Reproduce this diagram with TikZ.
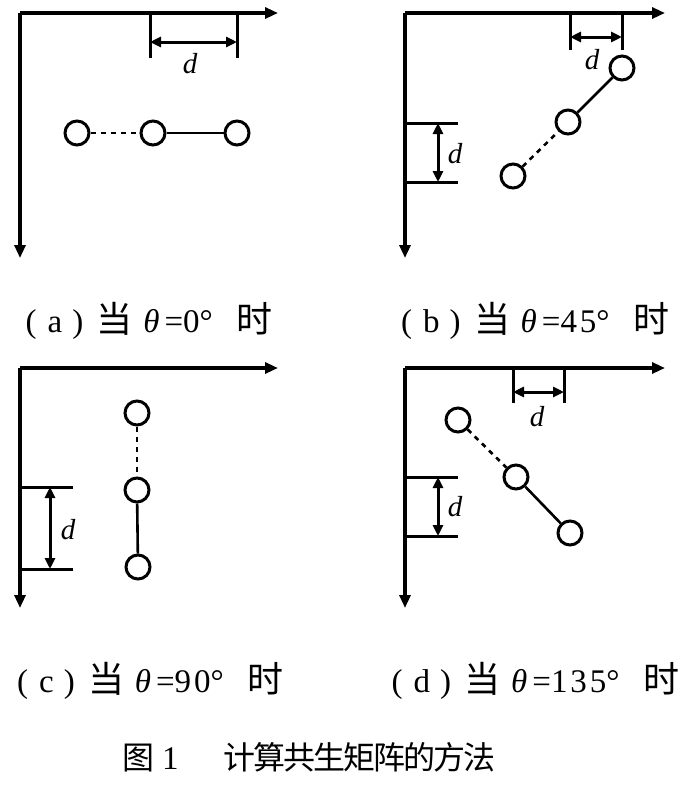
\documentclass[tikz,border=0pt]{standalone}
\usepackage{fontspec}
\setmainfont{Liberation Serif}
\newfontfamily\cjk{Noto Sans CJK SC}
\usetikzlibrary{arrows.meta}
\tikzset{
  axis/.style={line width=3.1pt,-{Triangle[length=13pt,width=11pt]}},
  dimtick/.style={line width=3pt},
  dimarrow/.style={line width=3pt,{Triangle[length=11pt,width=10pt]}-{Triangle[length=11pt,width=10pt]}},
  pix/.style={circle,draw,line width=3pt,minimum size=24pt,inner sep=0pt},
  solidlink/.style={line width=2.6pt},
  dashlink/.style={line width=2.6pt,dash pattern=on 5pt off 5pt},
  dlabel/.style={font=\fontsize{29}{30}\selectfont\itshape,inner sep=0pt},
  captxt/.style={font=\fontsize{33}{35}\selectfont,inner sep=0pt,anchor=west},
}
\newcommand{\ds}{\hspace{3pt}}
\newcommand{\cjkc}{\cjk\fontsize{36}{36}\selectfont}
\newcommand{\cc}[1]{\makebox[30pt][c]{#1}}
\newcommand{\capt}[2]{(\hspace{11pt}#1\hspace{10pt})\hspace{13.5pt}{\cjkc 当}\hspace{10.5pt}{\itshape θ}\hspace{5pt}=#2°\hspace{23.5pt}{\cjkc 时}}
\begin{document}
\begin{tikzpicture}[x=1pt,y=-1pt]
\useasboundingbox (0,0) rectangle (691,796);
% ---------- (a)
\coordinate (ao) at (20,13);
\coordinate (ax) at (278,13);
\coordinate (ay) at (20,258);
\draw[axis] (ao) -- (ax);
\draw[axis] (ao) -- (ay);
\coordinate (at1) at (150,13); \coordinate (at1b) at (150,58);
\coordinate (at2) at (237,13); \coordinate (at2b) at (237,58);
\draw[dimtick] (at1) -- (at1b);
\draw[dimtick] (at2) -- (at2b);
\coordinate (ad1) at (150,42); \coordinate (ad2) at (237,42);
\draw[dimarrow] (ad1) -- (ad2);
\node[dlabel] (adl) at (190,64) {d};
\node[pix] (a1) at (77,133) {};
\node[pix] (a2) at (153,133) {};
\node[pix] (a3) at (237,133) {};
\draw[dashlink] (a1) -- (a2);
\draw[solidlink] (a2) -- (a3);
% ---------- (b)
\coordinate (bo) at (405,13);
\coordinate (bx) at (665,13);
\coordinate (by) at (405,258);
\draw[axis] (bo) -- (bx);
\draw[axis] (bo) -- (by);
\coordinate (bt1) at (570,13); \coordinate (bt1b) at (570,50);
\coordinate (bt2) at (622,13); \coordinate (bt2b) at (622,50);
\draw[dimtick] (bt1) -- (bt1b);
\draw[dimtick] (bt2) -- (bt2b);
\coordinate (bd1) at (570,37); \coordinate (bd2) at (622,37);
\draw[dimarrow] (bd1) -- (bd2);
\node[dlabel] (bdl) at (592,60) {d};
\coordinate (bh1) at (405,123); \coordinate (bh1b) at (458,123);
\coordinate (bh2) at (405,182); \coordinate (bh2b) at (458,182);
\draw[dimtick] (bh1) -- (bh1b);
\draw[dimtick] (bh2) -- (bh2b);
\coordinate (bv1) at (438,123); \coordinate (bv2) at (438,182);
\draw[dimarrow] (bv1) -- (bv2);
\node[dlabel] (bvl) at (455,154) {d};
\node[pix] (b1) at (513,176) {};
\node[pix] (b2) at (568,122) {};
\node[pix] (b3) at (622,68) {};
\draw[dashlink] (b1) -- (b2);
\draw[solidlink] (b2) -- (b3);
% ---------- (c)
\coordinate (co) at (20,368);
\coordinate (cx) at (278,368);
\coordinate (cy) at (20,608);
\draw[axis] (co) -- (cx);
\draw[axis] (co) -- (cy);
\coordinate (ch1) at (20,487); \coordinate (ch1b) at (73,487);
\coordinate (ch2) at (20,569); \coordinate (ch2b) at (73,569);
\draw[dimtick] (ch1) -- (ch1b);
\draw[dimtick] (ch2) -- (ch2b);
\coordinate (cv1) at (50,487); \coordinate (cv2) at (50,569);
\draw[dimarrow] (cv1) -- (cv2);
\node[dlabel] (cvl) at (68,530) {d};
\node[pix] (c1) at (137,413) {};
\node[pix] (c2) at (137,490) {};
\node[pix] (c3) at (138,567) {};
\draw[dashlink] (c1) -- (c2);
\draw[solidlink] (c2) -- (c3);
% ---------- (d)
\coordinate (do) at (405,368);
\coordinate (dx) at (665,368);
\coordinate (dy) at (405,608);
\draw[axis] (do) -- (dx);
\draw[axis] (do) -- (dy);
\coordinate (dt1) at (513,368); \coordinate (dt1b) at (513,403);
\coordinate (dt2) at (564,368); \coordinate (dt2b) at (564,403);
\draw[dimtick] (dt1) -- (dt1b);
\draw[dimtick] (dt2) -- (dt2b);
\coordinate (dd1) at (513,392); \coordinate (dd2) at (564,392);
\draw[dimarrow] (dd1) -- (dd2);
\node[dlabel] (ddl) at (537,417) {d};
\coordinate (dh1) at (405,477); \coordinate (dh1b) at (458,477);
\coordinate (dh2) at (405,536); \coordinate (dh2b) at (458,536);
\draw[dimtick] (dh1) -- (dh1b);
\draw[dimtick] (dh2) -- (dh2b);
\coordinate (dv1) at (438,477); \coordinate (dv2) at (438,536);
\draw[dimarrow] (dv1) -- (dv2);
\node[dlabel] (dvl) at (455,507) {d};
\node[pix] (d1) at (458,420) {};
\node[pix] (d2) at (516,477) {};
\node[pix] (d3) at (570,533) {};
\draw[dashlink] (d1) -- (d2);
\draw[solidlink] (d2) -- (d3);
% ---------- captions
\node[captxt] (capa) at (25.5,321) {\capt{a}{0}};
\node[captxt] (capb) at (401,321) {\capt{b}{4\ds5}};
\node[captxt] (capc) at (17,681) {\capt{c}{9\ds0}};
\node[captxt] (capd) at (391.5,681) {\capt{d}{1\ds3\ds5}};
\node[captxt,font=\fontsize{32}{34}\selectfont] (title) at (122,757)
  {{\cjk 图}\hspace{8pt}{\fontsize{33}{33}\selectfont 1}\hspace{46pt}{\cjk\cc{计}\cc{算}\cc{共}\cc{生}\cc{矩}\cc{阵}\cc{的}\cc{方}\cc{法}}};
\end{tikzpicture}
\end{document}
